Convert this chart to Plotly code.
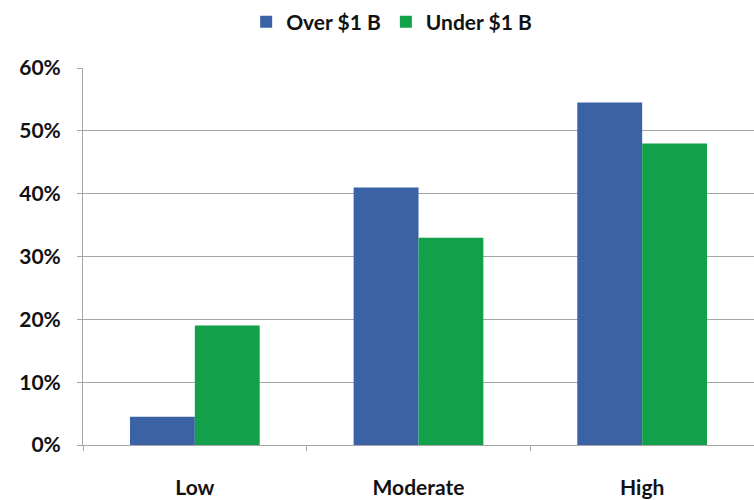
import plotly.graph_objects as go

categories = ["Low", "Moderate", "High"]
over_1b = [0.045, 0.41, 0.545]
under_1b = [0.19, 0.33, 0.48]
series_names = ["Over $1 B", "Under $1 B"]
y_ticks = [0, 0.1, 0.2, 0.3, 0.4, 0.5, 0.6]

BLUE = "#3A62A4"
GREEN = "#13A04A"
FONT = "Lato"
FS = 21

fig = go.Figure()
fig.add_trace(go.Bar(x=categories, y=over_1b, name=series_names[0], marker=dict(color=BLUE, line=dict(width=0))))
fig.add_trace(go.Bar(x=categories, y=under_1b, name=series_names[1], marker=dict(color=GREEN, line=dict(width=0))))

fig.update_layout(
    width=754, height=500,
    margin=dict(l=83, r=0, t=68, b=55),
    paper_bgcolor="white", plot_bgcolor="white",
    barmode="group", bargap=0.42, bargroupgap=0,
    font=dict(family=FONT, size=FS, color="#111111"),
    legend=dict(orientation="h", x=0.46, xanchor="center", y=1.122, yanchor="middle",
                font=dict(family=FONT, size=FS, color="#111111", weight="bold"),
                itemwidth=30, tracegroupgap=0),
    showlegend=True,
)
fig.update_xaxes(
    showgrid=False, showline=True, linecolor="#A6A6A6", linewidth=1,
    ticks="outside", tickson="boundaries", ticklen=5, tickcolor="#A6A6A6",
    tickfont=dict(family=FONT, size=FS, color="#111111", weight="bold"),
    ticklabelstandoff=24,
)
fig.update_yaxes(
    range=[0, 0.6], tickvals=y_ticks, tickformat=".0%",
    showgrid=True, gridcolor="#A6A6A6", gridwidth=1,
    showline=True, linecolor="#A6A6A6", linewidth=1,
    ticks="outside", ticklen=5, tickcolor="#A6A6A6",
    tickfont=dict(family=FONT, size=FS, color="#111111", weight="bold"),
    zeroline=False, ticklabelstandoff=12,
)

fig.write_html("out.html")
